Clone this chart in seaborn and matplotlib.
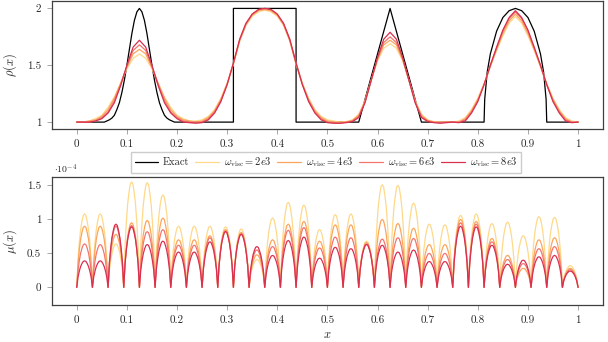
import matplotlib
matplotlib.use('Agg')
import matplotlib.pyplot as plt
import numpy as np
import pandas as pd
import seaborn as sns

# --- exact profile (gaussian, square, triangle, half ellipse)
x_exact = [0.0, 0.055, 0.065, 0.07, 0.075, 0.08, 0.085, 0.09, 0.095, 0.1,
           0.105, 0.11, 0.115, 0.12, 0.125, 0.13, 0.135, 0.14, 0.145, 0.15,
           0.155, 0.16, 0.165, 0.17, 0.175, 0.18, 0.185, 0.195,
           0.3125, 0.3125, 0.4375, 0.4375, 0.5625, 0.625, 0.6875,
           0.8125, 0.81375, 0.81875, 0.825, 0.8375, 0.85, 0.8625, 0.875,
           0.8875, 0.9, 0.9125, 0.925, 0.93125, 0.93625, 0.9375, 1.0]
rho_exact = [1.0, 1.0, 1.02, 1.035, 1.06, 1.11, 1.17, 1.26, 1.37, 1.5,
             1.64, 1.78, 1.895, 1.97, 2.0, 1.97, 1.895, 1.78, 1.64, 1.5,
             1.37, 1.26, 1.17, 1.11, 1.06, 1.035, 1.02, 1.0,
             1.0, 2.0, 2.0, 1.0, 1.0, 2.0, 1.0,
             1.0, 1.2, 1.44, 1.6, 1.8, 1.92, 1.98, 2.0,
             1.98, 1.92, 1.8, 1.6, 1.44, 1.2, 1.0, 1.0]

# --- numerical density, sampled every 1/80
x_num = np.linspace(0, 1, 81)
rho_2e3 = [1.0, 1.0, 1.01, 1.03, 1.06, 1.13, 1.22, 1.34, 1.47, 1.56,
           1.60, 1.56, 1.47, 1.34, 1.22, 1.13, 1.06, 1.03, 1.01, 1.01,
           1.02, 1.05, 1.11, 1.21, 1.34, 1.51, 1.71, 1.85, 1.93, 1.97,
           1.985, 1.97, 1.93, 1.85, 1.71, 1.51, 1.34, 1.21, 1.11, 1.05,
           1.02, 1.01, 1.0, 1.005, 1.02, 1.07, 1.19, 1.37, 1.54, 1.65,
           1.69, 1.65, 1.54, 1.37, 1.19, 1.07, 1.02, 1.005, 1.0, 1.0,
           1.0, 1.01, 1.04, 1.11, 1.21, 1.34, 1.49, 1.63, 1.76, 1.87,
           1.93, 1.87, 1.76, 1.63, 1.49, 1.34, 1.21, 1.11, 1.04, 1.01,
           1.0]
rho_4e3 = [1.0, 1.0, 1.01, 1.02, 1.05, 1.11, 1.21, 1.34, 1.48, 1.60,
           1.64, 1.60, 1.48, 1.34, 1.21, 1.11, 1.05, 1.02, 1.01, 1.0,
           1.01, 1.04, 1.10, 1.20, 1.34, 1.51, 1.72, 1.86, 1.94, 1.98,
           1.99, 1.98, 1.94, 1.86, 1.72, 1.51, 1.34, 1.20, 1.10, 1.04,
           1.01, 1.0, 1.0, 1.0, 1.015, 1.06, 1.18, 1.37, 1.55, 1.68,
           1.72, 1.68, 1.55, 1.37, 1.18, 1.06, 1.015, 1.0, 1.0, 1.0,
           1.0, 1.0, 1.03, 1.10, 1.20, 1.33, 1.49, 1.64, 1.78, 1.89,
           1.95, 1.89, 1.78, 1.64, 1.49, 1.33, 1.20, 1.10, 1.03, 1.0,
           1.0]
rho_6e3 = [1.0, 1.0, 1.0, 1.01, 1.04, 1.09, 1.19, 1.33, 1.49, 1.63,
           1.68, 1.63, 1.49, 1.33, 1.19, 1.09, 1.04, 1.01, 1.0, 1.0,
           1.0, 1.03, 1.09, 1.19, 1.33, 1.52, 1.72, 1.86, 1.95, 1.99,
           2.0, 1.99, 1.95, 1.86, 1.72, 1.52, 1.33, 1.19, 1.09, 1.03,
           1.0, 0.995, 0.99, 1.0, 1.01, 1.05, 1.18, 1.37, 1.56, 1.70,
           1.75, 1.70, 1.56, 1.37, 1.18, 1.05, 1.01, 1.0, 0.995, 1.0,
           1.0, 1.0, 1.02, 1.09, 1.19, 1.33, 1.50, 1.65, 1.80, 1.91,
           1.97, 1.91, 1.80, 1.65, 1.50, 1.33, 1.19, 1.09, 1.02, 1.0,
           1.0]
rho_8e3 = [1.0, 1.0, 1.0, 1.01, 1.03, 1.08, 1.17, 1.32, 1.50, 1.66,
           1.72, 1.66, 1.50, 1.32, 1.17, 1.08, 1.03, 1.0, 0.995, 0.99,
           0.995, 1.02, 1.08, 1.18, 1.33, 1.52, 1.73, 1.87, 1.95, 1.99,
           2.0, 1.99, 1.95, 1.87, 1.73, 1.52, 1.33, 1.18, 1.08, 1.02,
           0.995, 0.99, 0.99, 0.995, 1.005, 1.04, 1.17, 1.37, 1.57, 1.73,
           1.79, 1.73, 1.57, 1.37, 1.17, 1.04, 1.005, 0.995, 0.99, 0.995,
           1.0, 0.995, 1.01, 1.08, 1.18, 1.33, 1.50, 1.66, 1.81, 1.92,
           1.98, 1.92, 1.81, 1.66, 1.50, 1.33, 1.18, 1.08, 1.01, 0.995,
           1.0]

# --- artificial viscosity: peak per element (units of 1e-4), 32 elements
n_elem = 32
mu_2e3 = [1.08, 1.08, 0.64, 1.55, 1.54, 1.36, 0.90, 0.90, 0.90, 0.89,
          0.86, 0.41, 1.02, 1.25, 1.21, 0.85, 1.07, 1.08, 0.68, 1.51,
          1.50, 1.24, 0.93, 0.92, 1.06, 1.08, 0.94, 0.96, 0.76, 1.04,
          1.03, 0.32]
mu_4e3 = [0.90, 0.90, 0.78, 0.95, 0.985, 1.02, 0.70, 0.70, 0.76, 0.85,
          0.81, 0.48, 0.70, 0.93, 0.97, 0.68, 0.92, 0.92, 0.66, 1.00,
          0.94, 0.87, 0.63, 0.63, 1.00, 0.97, 0.72, 0.47, 0.28, 0.70,
          0.73, 0.28]
mu_6e3 = [0.64, 0.63, 0.90, 0.91, 0.82, 0.85, 0.62, 0.62, 0.73, 0.83,
          0.79, 0.55, 0.60, 0.84, 0.88, 0.58, 0.74, 0.73, 0.64, 0.71,
          0.73, 0.72, 0.50, 0.50, 0.95, 0.93, 0.67, 0.41, 0.35, 0.57,
          0.60, 0.26]
mu_8e3 = [0.39, 0.39, 0.93, 0.89, 0.63, 0.68, 0.52, 0.52, 0.67, 0.82,
          0.78, 0.60, 0.47, 0.69, 0.74, 0.43, 0.59, 0.57, 0.63, 0.62,
          0.52, 0.55, 0.38, 0.38, 0.90, 0.89, 0.62, 0.34, 0.40, 0.45,
          0.47, 0.24]
# shape of one bump inside an element (normalised)
bump_shape = [0, 0.39, 0.62, 0.79, 0.90, 0.98, 1.0, 0.98, 0.90, 0.79, 0.62, 0.39, 0]

labels = [r'$\omega_{\rm visc} = 2e3$', r'$\omega_{\rm visc} = 4e3$',
          r'$\omega_{\rm visc} = 6e3$', r'$\omega_{\rm visc} = 8e3$']
colors = ['#fed98a', '#fca55d', '#f2766e', '#d8304f']
xticks = [0, 0.1, 0.2, 0.3, 0.4, 0.5, 0.6, 0.7, 0.8, 0.9, 1]
xticklabels = ['0', '0.1', '0.2', '0.3', '0.4', '0.5', '0.6', '0.7', '0.8', '0.9', '1']

sns.set_theme(style='white')
plt.rcParams['font.family'] = 'serif'
plt.rcParams['font.serif'] = ['cmr10', 'DejaVu Serif']
plt.rcParams['mathtext.fontset'] = 'cm'
plt.rcParams['axes.formatter.use_mathtext'] = True
plt.rcParams['axes.unicode_minus'] = False

# long frames
rho_frame = pd.concat([pd.DataFrame({'x': x_num, 'rho': r, 'run': lab})
                       for r, lab in zip([rho_2e3, rho_4e3, rho_6e3, rho_8e3], labels)])
mu_rows = []
for peaks, lab in zip([mu_2e3, mu_4e3, mu_6e3, mu_8e3], labels):
    for k in range(n_elem):
        for j, s in enumerate(bump_shape):
            mu_rows.append({'x': (k + j / (len(bump_shape) - 1)) / n_elem,
                            'mu': peaks[k] * s, 'run': lab})
mu_frame = pd.DataFrame(mu_rows)
exact_frame = pd.DataFrame({'x': x_exact, 'rho': rho_exact, 'run': 'Exact'})

fig = plt.figure(figsize=(6.08, 3.42), dpi=100)
ax1 = fig.add_axes([0.085, 0.623, 0.907, 0.374])
ax2 = fig.add_axes([0.085, 0.108, 0.907, 0.375])

sns.lineplot(data=exact_frame, x='x', y='rho', color='black', lw=0.9,
             estimator=None, sort=False, ax=ax1, label='Exact')
sns.lineplot(data=rho_frame, x='x', y='rho', hue='run', palette=colors,
             hue_order=labels, lw=0.9, estimator=None, sort=False, ax=ax1)
sns.lineplot(data=mu_frame, x='x', y='mu', hue='run', palette=colors,
             hue_order=labels, lw=0.9, estimator=None, sort=False, ax=ax2,
             legend=False)

handles, labs = ax1.get_legend_handles_labels()
ax1.get_legend().remove()
fig.legend(handles, labs, loc='center', bbox_to_anchor=(0.536, 0.526), ncol=5,
           fontsize=7.5, frameon=True, fancybox=False, edgecolor='#cccccc',
           handlelength=2.3, handletextpad=0.4, columnspacing=0.6,
           borderpad=0.35, framealpha=1)

for ax in (ax1, ax2):
    ax.set_xlim(-0.05, 1.05)
    ax.set_xticks(xticks)
    ax.set_xticklabels(xticklabels)
    ax.tick_params(direction='out', length=3.5, width=0.6, color='#999999',
                   labelsize=8, pad=4, bottom=True, left=True)
    for sp in ax.spines.values():
        sp.set_color('#404040')
        sp.set_linewidth(0.9)

ax1.set_ylim(0.94, 2.065)
ax1.set_yticks([1, 1.5, 2])
ax1.set_yticklabels(['1', '1.5', '2'])
ax1.set_xlabel('')
ax1.set_ylabel(r'$\rho(x)$', fontsize=9, labelpad=6)

ax2.set_ylim(-0.26, 1.626)
ax2.set_yticks([0, 0.5, 1, 1.5])
ax2.set_yticklabels(['0', '0.5', '1', '1.5'])
ax2.set_xlabel(r'$x$', fontsize=9, labelpad=3)
ax2.set_ylabel(r'$\mu(x)$', fontsize=9, labelpad=6)
ax2.text(0.005, 1.01, r'$\cdot 10^{-4}$', transform=ax2.transAxes,
         ha='left', va='bottom', fontsize=7)

fig.savefig('out.png', dpi=100)
